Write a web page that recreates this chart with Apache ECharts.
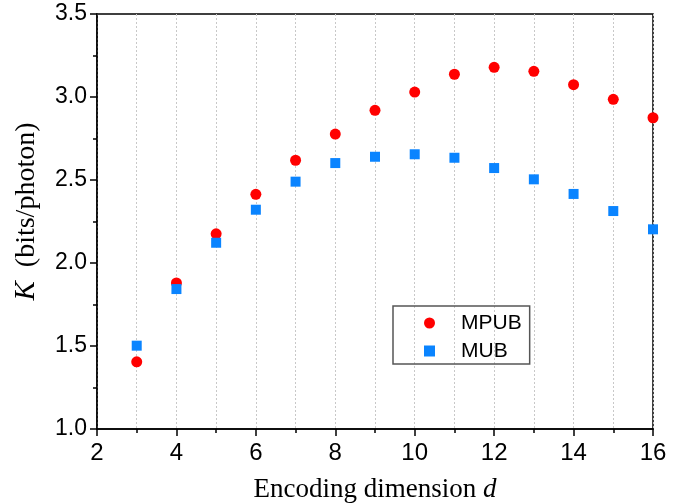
<!DOCTYPE html>
<html>
<head>
<meta charset="utf-8">
<script src="https://cdn.jsdelivr.net/npm/echarts@6/dist/echarts.min.js"></script>
<style>html,body{margin:0;padding:0;background:#fff}#c{width:693px;height:504px}</style>
</head>
<body>
<div id="c"></div>
<script>
const dims = [3, 4, 5, 6, 7, 8, 9, 10, 11, 12, 13, 14, 15, 16];
const mpub = [1.405, 1.88, 2.176, 2.414, 2.619, 2.777, 2.92, 3.03, 3.137, 3.179, 3.155, 3.074, 2.986, 2.875];
const mub  = [1.502, 1.843, 2.122, 2.321, 2.49, 2.602, 2.64, 2.655, 2.634, 2.572, 2.504, 2.416, 2.313, 2.203];
const seriesNames = ['MPUB', 'MUB'];
const xTicks = [2, 4, 6, 8, 10, 12, 14, 16];
const yTicks = [1.0, 1.5, 2.0, 2.5, 3.0, 3.5];

const chart = echarts.init(document.getElementById('c'), null, {renderer: 'canvas'});
const serif = "'Liberation Serif', 'Times New Roman', serif";
const sans = "'Liberation Sans', Arial, sans-serif";
const dotted = {show: true, lineStyle: {color: '#c8c8c8', type: [2, 2], width: 1}};

chart.setOption({
  animation: false,
  grid: {left: 97, right: 40, top: 14, bottom: 75, show: true, borderColor: '#000', borderWidth: 1.5,
         backgroundColor: 'transparent', containLabel: false, outerBoundsMode: 'none'},
  legend: {
    left: 393, top: 306, orient: 'vertical',
    data: [{name: seriesNames[0], icon: 'circle'}, {name: seriesNames[1], icon: 'rect'}],
    itemWidth: 11, itemHeight: 11, itemGap: 6,
    borderColor: '#555', borderWidth: 1.5, borderRadius: 0,
    padding: [6, 8, 2, 31],
    textStyle: {fontFamily: sans, fontSize: 21, color: '#000', lineHeight: 22, padding: [0, 0, 0, 21]}
  },
  xAxis: {
    type: 'value', min: xTicks[0], max: xTicks[xTicks.length - 1], interval: 2,
    name: 'Encoding dimension {i|d}', nameLocation: 'middle', nameGap: 47,
    nameTextStyle: {fontFamily: serif, fontSize: 27, color: '#000',
      rich: {i: {fontFamily: serif, fontSize: 27, fontStyle: 'italic', color: '#000'}}},
    axisLine: {show: true, onZero: false, lineStyle: {color: '#000', width: 1.5}},
    axisTick: {show: true, inside: false, length: 7, lineStyle: {color: '#000', width: 1.5}},
    minorTick: {show: true, splitNumber: 2, length: 4, lineStyle: {color: '#000', width: 1.5}},
    axisLabel: {fontFamily: sans, fontSize: 24, color: '#000', margin: 12},
    splitLine: dotted,
    minorSplitLine: dotted
  },
  yAxis: {
    type: 'value', min: yTicks[0], max: yTicks[yTicks.length - 1], interval: 0.5,
    name: '{k|K}  {n|(bits/photon)}', nameLocation: 'middle', nameGap: 56,
    nameTextStyle: {fontFamily: serif, fontSize: 28, color: '#000', padding: [0, 0, 0, 20],
      rich: {k: {fontFamily: serif, fontSize: 29, fontStyle: 'italic', color: '#000'},
             n: {fontFamily: serif, fontSize: 28, color: '#000'}}},
    axisLine: {show: true, onZero: false, lineStyle: {color: '#000', width: 1.5}},
    axisTick: {show: true, inside: false, length: 7, lineStyle: {color: '#000', width: 1.5}},
    minorTick: {show: true, splitNumber: 2, length: 4, lineStyle: {color: '#000', width: 1.5}},
    axisLabel: {fontFamily: sans, fontSize: 23, color: '#000', margin: 10,
      formatter: v => v.toFixed(1)},
    splitLine: {show: false}
  },
  series: [
    {name: seriesNames[0], type: 'scatter', symbol: 'circle', symbolSize: 11,
     itemStyle: {color: '#ff0000', opacity: 1}, data: dims.map((d, i) => [d, mpub[i]]), z: 3},
    {name: seriesNames[1], type: 'scatter', symbol: 'rect', symbolSize: 10,
     itemStyle: {color: '#0a84ff', opacity: 1}, data: dims.map((d, i) => [d, mub[i]]), z: 4}
  ]
});
</script>
</body>
</html>
